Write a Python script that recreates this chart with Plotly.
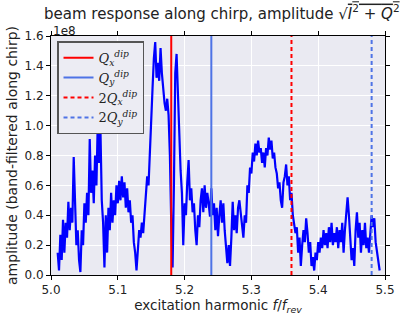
import numpy as np
import plotly.graph_objects as go

# excitation sweep: first harmonic and spacing of the samples
f_start = 5.010
f_step = 0.002

# band-filtered amplitude sqrt(I^2+Q^2), in units of 1e8
amplitude = [
    0.15, 0.03, 0.27, 0.10, 0.37, 0.15, 0.35, 0.25, 0.49, 0.30,
    0.45, 0.35, 0.79, 0.40, 0.20, 0.30, 0.10, 0.02, 0.30, 0.20,
    0.48, 0.35, 0.55, 0.40, 0.91, 0.55, 0.70, 0.48, 0.80, 0.60,
    1.02, 0.75, 0.98, 0.50, 0.35, 0.05, 0.40, 0.15, 0.45, 0.30,
    0.55, 0.35, 0.50, 0.40, 0.60, 0.48, 0.63, 0.50, 0.66, 0.52,
    0.62, 0.45, 0.58, 0.42, 0.50, 0.35, 0.40, 0.22, 0.15, 0.03,
    0.20, 0.30, 0.25, 0.35, 0.28, 0.42, 0.50, 0.66, 0.60, 0.85,
    1.10, 1.25, 1.45, 1.56, 1.32, 1.42, 1.30, 1.52, 1.35, 1.22,
    1.15, 1.10, 1.18, 1.07, 0.80, 0.35, 0.05, 0.60, 1.35, 1.48,
    1.20, 0.98, 0.70, 0.55, 0.20, 0.48, 0.40, 0.62, 0.77, 0.50,
    0.58, 0.42, 0.48, 0.30, 0.20, 0.40, 0.32, 0.50, 0.58, 0.42,
    0.60, 0.45, 0.55, 0.48, 0.39, 0.58, 0.40, 0.48, 0.30, 0.45,
    0.26, 0.40, 0.50, 0.35, 0.48, 0.30, 0.20, 0.08, 0.20, 0.06,
    0.25, 0.49, 0.30, 0.40, 0.28, 0.45, 0.50, 0.40, 0.35, 0.25,
    0.40, 0.35, 0.60, 0.55, 0.72, 0.68, 0.82, 0.76, 0.88, 0.80,
    0.90, 0.82, 0.85, 0.75, 0.82, 0.72, 0.85, 0.80, 0.92, 0.84,
    0.90, 0.78, 0.82, 0.72, 0.68, 0.58, 0.62, 0.50, 0.45, 0.62,
    0.66, 0.74, 0.60, 0.66, 0.50, 0.55, 0.40, 0.35, 0.28, 0.32,
    0.15, 0.25, 0.06, 0.20, 0.30, 0.22, 0.38, 0.28, 0.15, 0.22,
    0.06, 0.12, 0.03, 0.15, 0.10, 0.22, 0.15, 0.25, 0.18, 0.30,
    0.20, 0.28, 0.18, 0.32, 0.22, 0.35, 0.20, 0.28, 0.22, 0.32,
    0.18, 0.30, 0.22, 0.35, 0.15, 0.30, 0.45, 0.52, 0.40, 0.28,
    0.10, 0.18, 0.06, 0.30, 0.42, 0.25, 0.35, 0.15, 0.30, 0.20,
    0.35, 0.18, 0.25, 0.15, 0.30, 0.40, 0.32, 0.38, 0.22, 0.15,
    0.10, 0.03,
]
harmonic = np.round(f_start + f_step * np.arange(len(amplitude)), 4)

# measured tunes (fractional part added to the harmonic number 5)
q_x = 5.18
q_y = 5.24
q2_x = 5.36
q2_y = 5.48

x_ticks = [5.0, 5.1, 5.2, 5.3, 5.4, 5.5]
y_ticks = [0.0, 0.2, 0.4, 0.6, 0.8, 1.0, 1.2, 1.4, 1.6]
y_max = 1.6

fig = go.Figure()
fig.add_trace(go.Scatter(
    x=harmonic, y=amplitude, mode="lines",
    line=dict(color="#0000FF", width=2.2), showlegend=False,
))

markers = [
    (q_x, "#FF0000", "solid", "<i>Q</i><sub><i>x</i></sub><sup><i>dip</i></sup>"),
    (q_y, "#4E73E6", "solid", "<i>Q</i><sub><i>y</i></sub><sup><i>dip</i></sup>"),
    (q2_x, "#FF0000", "4px,3px", "2<i>Q</i><sub><i>x</i></sub><sup><i>dip</i></sup>"),
    (q2_y, "#4E73E6", "4px,3px", "2<i>Q</i><sub><i>y</i></sub><sup><i>dip</i></sup>"),
]
for xv, col, dash, name in markers:
    fig.add_trace(go.Scatter(
        x=[xv, xv], y=[0, y_max], mode="lines", name=name,
        line=dict(color=col, width=2, dash=dash),
    ))

axis_font = dict(family="DejaVu Sans", size=12, color="#222")
fig.update_layout(
    width=407, height=323,
    margin=dict(l=50, r=12, t=36, b=35),
    paper_bgcolor="white", plot_bgcolor="#EAEAF2",
    font=dict(family="DejaVu Sans", color="#222"),
    title=dict(
        text="beam response along chirp, amplitude "
             "√<span style='text-decoration:overline'><i>I</i><sup>2</sup> + <i>Q</i><sup>2</sup></span>",
        x=0.545, xanchor="center", y=0.975, yanchor="top",
        font=dict(family="DejaVu Sans", size=15, color="#222"),
    ),
    legend=dict(
        x=0.018, y=0.978, xanchor="left", yanchor="top",
        bgcolor="#ECECF3", bordercolor="#555", borderwidth=1.5,
        font=dict(family="DejaVu Serif", size=13, color="#222"),
        tracegroupgap=0, entrywidth=40, entrywidthmode="pixels",
        itemwidth=30,
    ),
    xaxis=dict(
        range=[5.0, 5.5], tickvals=x_ticks, tickformat=".1f",
        showline=True, linecolor="black", linewidth=1, mirror="ticks",
        ticks="outside", ticklen=4, tickcolor="black",
        showgrid=True, gridcolor="white", gridwidth=1, zeroline=False,
        tickfont=axis_font,
        title=dict(text="excitation harmonic <i>f</i>/<i>f</i><sub><i>rev</i></sub>",
                   font=dict(family="DejaVu Sans", size=13.5, color="#222"), standoff=4),
    ),
    yaxis=dict(
        range=[0, y_max], tickvals=y_ticks, tickformat=".1f",
        showline=True, linecolor="black", linewidth=1, mirror="ticks",
        ticks="outside", ticklen=4, tickcolor="black",
        showgrid=True, gridcolor="white", gridwidth=1, zeroline=False,
        tickfont=axis_font,
        title=dict(text="amplitude (band-filtered along chirp)",
                   font=dict(family="DejaVu Sans", size=14, color="#222"), standoff=3),
    ),
    annotations=[dict(
        text="1e8", xref="paper", yref="paper", x=0.0, y=1.0,
        xanchor="left", yanchor="middle", yshift=5, showarrow=False,
        font=dict(family="DejaVu Sans", size=12, color="#222"),
    )],
)

fig.write_html("out.html")
